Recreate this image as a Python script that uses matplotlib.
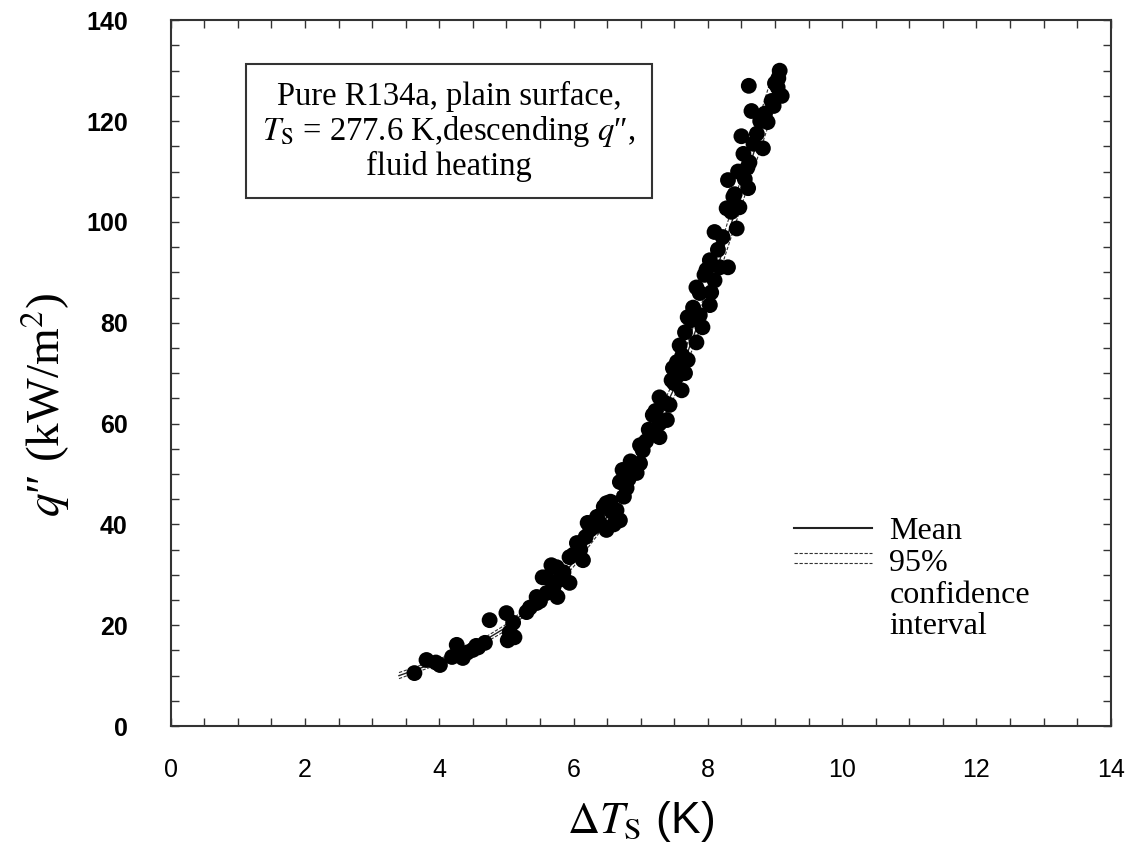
import numpy as np
import matplotlib
matplotlib.use("Agg")
import matplotlib.pyplot as plt
from matplotlib.lines import Line2D
from matplotlib.legend_handler import HandlerBase
from matplotlib.ticker import MultipleLocator

plt.rcParams["mathtext.fontset"] = "stix"

# measured points: wall superheat (K) vs heat flux (kW/m2)
dT = [3.63, 3.81, 3.95, 4.01, 4.19, 4.26, 4.30, 4.35, 4.42, 4.50,
      4.55, 4.58, 4.68, 4.75, 5.00, 5.02, 5.05, 5.12, 5.10, 5.30,
      5.35, 5.45, 5.45, 5.50, 5.54, 5.60, 5.60, 5.67, 5.70, 5.75,
      5.76, 5.79, 5.85, 5.94, 5.94, 6.00, 6.05, 6.10, 6.14, 6.18,
      6.21, 6.25, 6.30, 6.35, 6.39, 6.45, 6.49, 6.49, 6.55, 6.57,
      6.60, 6.64, 6.69, 6.69, 6.73, 6.75, 6.79, 6.82, 6.85, 6.90,
      6.94, 6.99, 6.99, 7.03, 7.08, 7.12, 7.18, 7.22, 7.28, 7.28,
      7.28, 7.35, 7.39, 7.43, 7.46, 7.48, 7.50, 7.54, 7.55, 7.58,
      7.61, 7.62, 7.66, 7.66, 7.70, 7.70, 7.75, 7.78, 7.83, 7.83,
      7.88, 7.88, 7.92, 7.95, 7.98, 8.03, 8.03, 8.05, 8.10, 8.10,
      8.15, 8.18, 8.22, 8.28, 8.30, 8.30, 8.35, 8.38, 8.40, 8.43,
      8.45, 8.47, 8.50, 8.53, 8.55, 8.59, 8.60, 8.62, 8.61, 8.65,
      8.68, 8.73, 8.78, 8.82, 8.85, 8.89, 8.95, 8.98, 9.00, 9.04,
      9.05, 9.07, 9.10]
q = [10.5, 13.1, 12.6, 12.1, 13.7, 16.1, 14.5, 13.5, 14.6, 15.1,
     15.9, 15.6, 16.5, 21.0, 22.4, 17.0, 18.6, 17.6, 20.5, 22.6,
     23.5, 24.4, 25.6, 24.8, 29.5, 26.4, 29.5, 31.9, 27.5, 31.5,
     25.6, 29.0, 30.5, 28.4, 33.5, 34.0, 36.3, 35.0, 32.9, 37.5,
     40.3, 39.0, 39.5, 41.5, 40.3, 43.5, 38.9, 44.2, 44.5, 42.5,
     40.0, 42.8, 40.8, 48.4, 50.8, 45.5, 47.2, 49.0, 52.5, 51.0,
     50.2, 52.1, 55.7, 54.7, 56.5, 58.8, 61.7, 62.5, 57.3, 60.0,
     65.2, 64.2, 60.7, 63.7, 68.6, 71.0, 68.0, 72.2, 69.5, 75.5,
     66.6, 73.5, 70.0, 78.1, 72.6, 81.1, 80.5, 83.0, 76.1, 87.0,
     85.9, 81.5, 79.1, 89.5, 90.5, 83.5, 92.4, 86.0, 88.4, 98.0,
     94.5, 91.0, 97.0, 102.7, 91.0, 108.3, 102.0, 105.0, 105.5, 98.7,
     110.0, 102.9, 117.0, 113.5, 108.5, 110.8, 106.7, 111.8, 127.0, 122.0,
     115.5, 117.5, 120.0, 114.6, 121.5, 119.8, 124.0, 123.0, 127.5, 126.7,
     128.5, 130.0, 125.0]

# fitted mean and 95% confidence band
mean_dT = [3.4, 4.0, 4.5, 5.0, 5.5, 6.0, 6.5, 7.0, 7.5, 8.0, 8.5, 9.0]
mean_q = [10.0, 12.8, 15.6, 19.6, 25.0, 32.5, 41.5, 53.0, 67.0, 85.0, 106.0, 127.0]
ci_lo = [9.4, 12.3, 15.1, 19.0, 24.3, 31.6, 40.4, 51.6, 65.3, 82.8, 103.2, 123.0]
ci_hi = [10.6, 13.3, 16.1, 20.2, 25.7, 33.4, 42.6, 54.4, 68.7, 87.2, 108.8, 131.0]


class DoubleDashHandler(HandlerBase):
    """two thin dashed lines for the band, level with the first text line"""
    def create_artists(self, legend, orig_handle, xdescent, ydescent,
                       width, height, fontsize, trans):
        yc = height / 2 - ydescent + 1.15 * fontsize
        arts = []
        for dy in (0.16 * fontsize, -0.16 * fontsize):
            ln = Line2D([-xdescent, width - xdescent], [yc + dy, yc + dy],
                        color="#333333", lw=0.8, ls=(0, (3, 1.5)))
            ln.set_transform(trans)
            arts.append(ln)
        return arts


fig = plt.figure(figsize=(11.38, 8.67), dpi=100)
ax = fig.add_axes([0.150, 0.1626, 0.826, 0.814])

ax.plot(mean_dT, mean_q, color="#222222", lw=1.0)
ax.plot(mean_dT, ci_lo, color="#333333", lw=0.8, ls=(0, (3, 1.5)))
ax.plot(mean_dT, ci_hi, color="#333333", lw=0.8, ls=(0, (3, 1.5)))
ax.scatter(dT, q, s=130, color="black", edgecolors="none", zorder=3)

ax.set_xlim(0, 14)
ax.set_ylim(0, 140)
ax.xaxis.set_major_locator(MultipleLocator(2))
ax.xaxis.set_minor_locator(MultipleLocator(0.5))
ax.yaxis.set_major_locator(MultipleLocator(20))
ax.yaxis.set_minor_locator(MultipleLocator(5))
ax.tick_params(which="both", direction="in", top=True, right=True,
               length=6, width=1.0, color="#333333")
ax.tick_params(axis="x", which="major", pad=23, labelsize=18)
ax.tick_params(axis="y", which="major", pad=31, labelsize=18)
for lab in ax.get_xticklabels():
    lab.set_fontfamily("Liberation Sans")
for lab in ax.get_yticklabels():
    lab.set_fontfamily("Liberation Sans")
    lab.set_fontweight("bold")
for sp in ax.spines.values():
    sp.set_linewidth(1.5)
    sp.set_color("#333333")

ax.set_xlabel(r"$\Delta T_{\rm S}$ (K)", fontsize=32, fontfamily="Liberation Sans",
              labelpad=12)
ax.set_ylabel(r"$q$″ (kW/m$^2$)", fontsize=34, fontfamily="Liberation Serif")
ax.yaxis.set_label_coords(-0.105, 0.455)

ax.text(0.296, 0.843,
        "Pure R134a, plain surface,\n"
        r"$T_{\rm S}$ = 277.6 K,descending $q$″," "\n"
        "fluid heating",
        transform=ax.transAxes, ha="center", va="center", fontsize=23.5,
        fontfamily="Liberation Serif", linespacing=1.08,
        bbox=dict(boxstyle="square,pad=0.5", fc="white", ec="#333333", lw=1.5))

h_mean = Line2D([], [], color="#222222", lw=1.5)
h_ci = Line2D([], [], color="#333333", lw=0.8, ls="--")
leg = ax.legend([h_mean, h_ci], ["Mean", "95%\nconfidence\ninterval"],
                handler_map={h_ci: DoubleDashHandler()},
                loc="upper left", bbox_to_anchor=(0.632, 0.337), frameon=False,
                prop={"family": "Liberation Serif", "size": 23},
                handlelength=2.45, handletextpad=0.55, labelspacing=0.1)
for t in leg.get_texts():
    t.set_linespacing(1.1)

fig.savefig("out.png", dpi=100)
